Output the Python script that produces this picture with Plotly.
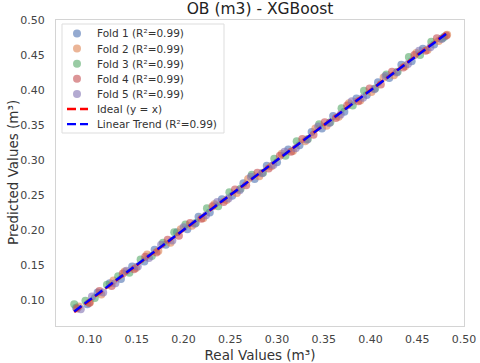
import numpy as np
import plotly.graph_objects as go

fold_names = ["Fold 1 (R²=0.99)", "Fold 2 (R²=0.99)", "Fold 3 (R²=0.99)",
              "Fold 4 (R²=0.99)", "Fold 5 (R²=0.99)"]
fold_colors = ["#4C72B0", "#DD8452", "#55A868", "#C44E52", "#8172B3"]

real_1 = [0.085, 0.097, 0.108, 0.121, 0.133, 0.145, 0.158, 0.169, 0.181, 0.193, 0.204, 0.216,
          0.228, 0.241, 0.252, 0.264, 0.276, 0.289, 0.300, 0.312, 0.324, 0.337, 0.348, 0.360,
          0.372, 0.385, 0.396, 0.408, 0.420, 0.433, 0.444, 0.456, 0.468, 0.479]
pred_1 = [0.089, 0.094, 0.111, 0.124, 0.130, 0.148, 0.155, 0.172, 0.179, 0.197, 0.201, 0.219,
          0.225, 0.244, 0.249, 0.267, 0.273, 0.292, 0.297, 0.315, 0.321, 0.340, 0.345, 0.363,
          0.369, 0.388, 0.393, 0.411, 0.417, 0.436, 0.441, 0.459, 0.465, 0.476]

real_2 = [0.088, 0.100, 0.112, 0.125, 0.137, 0.149, 0.161, 0.173, 0.186, 0.197, 0.209, 0.221,
          0.233, 0.246, 0.257, 0.269, 0.281, 0.294, 0.305, 0.317, 0.330, 0.341, 0.353, 0.366,
          0.377, 0.389, 0.401, 0.414, 0.425, 0.437, 0.449, 0.461, 0.473, 0.482]
pred_2 = [0.091, 0.097, 0.108, 0.128, 0.141, 0.146, 0.165, 0.170, 0.182, 0.201, 0.206, 0.217,
          0.237, 0.243, 0.253, 0.273, 0.277, 0.291, 0.309, 0.313, 0.327, 0.345, 0.349, 0.362,
          0.381, 0.385, 0.397, 0.418, 0.421, 0.434, 0.453, 0.457, 0.470, 0.479]

real_3 = [0.083, 0.095, 0.105, 0.118, 0.130, 0.142, 0.154, 0.166, 0.178, 0.190, 0.202, 0.213,
          0.225, 0.237, 0.249, 0.261, 0.273, 0.285, 0.297, 0.309, 0.321, 0.333, 0.345, 0.357,
          0.369, 0.381, 0.393, 0.405, 0.417, 0.429, 0.441, 0.453, 0.465, 0.477]
pred_3 = [0.094, 0.099, 0.103, 0.122, 0.134, 0.139, 0.158, 0.163, 0.182, 0.197, 0.208, 0.210,
          0.231, 0.234, 0.254, 0.259, 0.279, 0.282, 0.302, 0.306, 0.327, 0.330, 0.351, 0.354,
          0.374, 0.378, 0.399, 0.402, 0.422, 0.426, 0.447, 0.450, 0.469, 0.474]

real_4 = [0.086, 0.099, 0.110, 0.123, 0.135, 0.147, 0.159, 0.171, 0.183, 0.195, 0.207, 0.219,
          0.231, 0.243, 0.255, 0.267, 0.279, 0.291, 0.303, 0.315, 0.327, 0.339, 0.351, 0.363,
          0.375, 0.387, 0.399, 0.411, 0.423, 0.435, 0.447, 0.459, 0.471, 0.481]
pred_4 = [0.088, 0.096, 0.113, 0.120, 0.138, 0.144, 0.162, 0.168, 0.186, 0.192, 0.210, 0.216,
          0.234, 0.240, 0.258, 0.264, 0.282, 0.288, 0.306, 0.312, 0.330, 0.336, 0.354, 0.360,
          0.378, 0.384, 0.402, 0.408, 0.426, 0.432, 0.450, 0.456, 0.474, 0.478]

real_5 = [0.090, 0.102, 0.114, 0.127, 0.139, 0.151, 0.163, 0.176, 0.188, 0.200, 0.212, 0.224,
          0.236, 0.248, 0.260, 0.272, 0.284, 0.296, 0.308, 0.320, 0.332, 0.344, 0.356, 0.368,
          0.380, 0.392, 0.404, 0.416, 0.428, 0.440, 0.452, 0.464, 0.476]
pred_5 = [0.087, 0.105, 0.111, 0.124, 0.142, 0.148, 0.160, 0.179, 0.185, 0.204, 0.209, 0.221,
          0.240, 0.245, 0.257, 0.276, 0.281, 0.293, 0.312, 0.317, 0.329, 0.348, 0.353, 0.365,
          0.384, 0.389, 0.401, 0.420, 0.425, 0.437, 0.456, 0.461, 0.473]

reals = [real_1, real_2, real_3, real_4, real_5]
preds = [pred_1, pred_2, pred_3, pred_4, pred_5]

tick_vals = [0.10, 0.15, 0.20, 0.25, 0.30, 0.35, 0.40, 0.45, 0.50]
tick_text = ["0.10", "0.15", "0.20", "0.25", "0.30", "0.35", "0.40", "0.45", "0.50"]

W, H = 480, 363
ML, MR, MT, MB = 56, 16, 20, 37
PW, PH = W - ML - MR, H - MT - MB
DASH = "9px,4px"


def px_x(px):
    return (px - ML) / PW


def px_y(py):
    return (H - MB - py) / PH


fig = go.Figure()

for name, color, xs, ys in zip(fold_names, fold_colors, reals, preds):
    fig.add_trace(go.Scatter(x=xs, y=ys, mode="markers", name=name, showlegend=False,
                             marker=dict(color=color, size=8, opacity=0.6, line=dict(width=0))))

all_x = np.concatenate(reals)
all_y = np.concatenate(preds)
lo, hi = all_x.min(), all_x.max()

fig.add_trace(go.Scatter(x=[lo, hi], y=[lo, hi], mode="lines", name="Ideal (y = x)",
                         showlegend=False, line=dict(color="red", width=2.4, dash=DASH)))

slope, intercept = np.polyfit(all_x, all_y, 1)
fig.add_trace(go.Scatter(x=[lo, hi], y=[slope * lo + intercept, slope * hi + intercept],
                         mode="lines", name="Linear Trend (R²=0.99)", showlegend=False,
                         line=dict(color="blue", width=2.4, dash=DASH)))

# hand-made legend so the rows sit as tight as matplotlib's
legend_rows = [(n, "marker", c) for n, c in zip(fold_names, fold_colors)]
legend_rows += [("Ideal (y = x)", "line", "red"), ("Linear Trend (R²=0.99)", "line", "blue")]

shapes = [dict(type="rect", xref="paper", yref="paper",
               x0=px_x(62), x1=px_x(224), y0=px_y(133), y1=px_y(24),
               line=dict(color="#dddddd", width=1), fillcolor="white", layer="above")]
annotations = []
for i, (label, kind, color) in enumerate(legend_rows):
    yy = px_y(33.5 + i * 15.1)
    if kind == "marker":
        shapes.append(dict(type="circle", xref="paper", yref="paper",
                           xsizemode="pixel", ysizemode="pixel",
                           xanchor=px_x(77), yanchor=yy, x0=-4, x1=4, y0=-4, y1=4,
                           fillcolor=color, opacity=0.6, line=dict(width=0), layer="above"))
    else:
        shapes.append(dict(type="line", xref="paper", yref="paper",
                           x0=px_x(67), x1=px_x(88), y0=yy, y1=yy,
                           line=dict(color=color, width=2.4, dash=DASH), layer="above"))
    annotations.append(dict(text=label, xref="paper", yref="paper", x=px_x(95), y=yy,
                            xanchor="left", yanchor="middle", showarrow=False,
                            font=dict(size=10.5, color="#333333")))

# y axis title placed by hand (automargin is off)
annotations.append(dict(text="Predicted Values (m³)", xref="paper", yref="paper",
                        x=px_x(13), y=0.5, xanchor="center", yanchor="middle",
                        textangle=-90, showarrow=False,
                        font=dict(size=13.5, color="#333333")))

axis_style = dict(tickvals=tick_vals, ticktext=tick_text, automargin=False,
                  showgrid=False, zeroline=False, showline=True, mirror=True,
                  linecolor="#d4d4d4", linewidth=1.2, ticks="",
                  tickfont=dict(size=11, color="#444444"))

fig.update_layout(
    width=W, height=H,
    margin=dict(l=ML, r=MR, t=MT, b=MB),
    paper_bgcolor="white", plot_bgcolor="white",
    font=dict(family="DejaVu Sans", color="#333333"),
    title=dict(text="OB (m3) - XGBoost", xref="paper", x=0.5, xanchor="center",
               y=1 - 3 / H, yanchor="top", font=dict(size=15.5, color="#222222")),
    xaxis=dict(axis_style, range=[0.0635, 0.50], ticklabelstandoff=3,
               title=dict(text="Real Values (m³)", font=dict(size=13.5))),
    yaxis=dict(axis_style, range=[0.063, 0.50], ticklabelstandoff=8),
    shapes=shapes,
    annotations=annotations,
    showlegend=False,
)

# the page's default body margin would push the figure 8px off
fig.write_html("out.html", config={"displayModeBar": False},
               post_script="document.body.style.margin='0';")
